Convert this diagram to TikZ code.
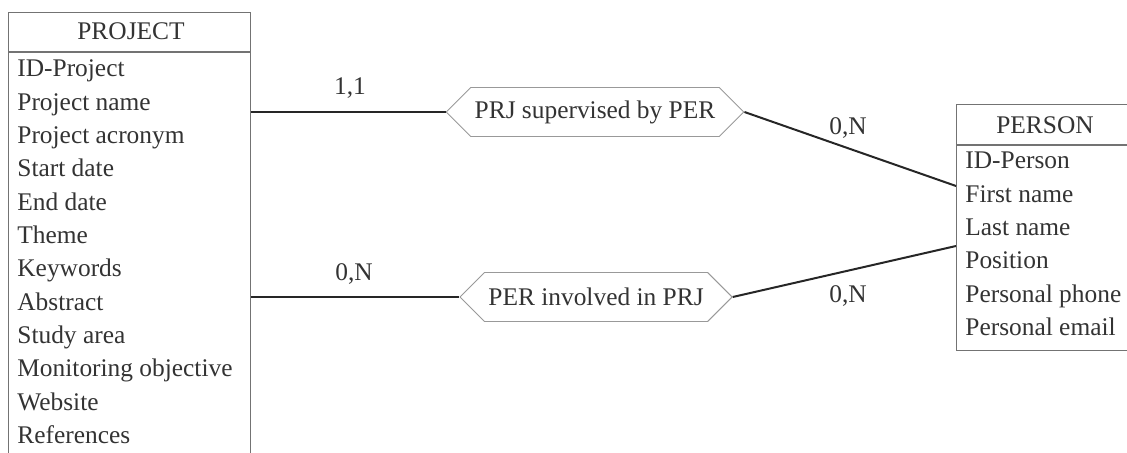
\documentclass[tikz,border=0pt]{standalone}
\usepackage{fontspec}
\setmainfont{Liberation Serif}
\usetikzlibrary{shapes.symbols}

\begin{document}
\begin{tikzpicture}[x=0.5pt,y=-0.5pt, font=\fontsize{12.7}{15}\selectfont, text=black!80]
    \tikzset{
        entbox/.style={draw=black!55, line width=0.55pt, inner sep=0pt, anchor=north west},
        attr/.style={anchor=base west, inner sep=0pt},
        card/.style={anchor=base, inner sep=0pt},
        relation/.style={shape=signal, signal to=east and west, signal pointer angle=90,
            draw=black!40, line width=0.45pt, minimum height=24.5pt, inner xsep=2pt, inner ysep=0pt},
        link/.style={draw=black!85, line width=1pt}
    }
    \useasboundingbox (0,0) rectangle (1127,453);
    \clip (0,0) rectangle (1127,453);

    % PROJECT entity
    \node[entbox, minimum width=121pt, minimum height=229pt] (prjbox) at (8,12) {};
    \draw[draw=black!55, line width=0.55pt] (8,52) -- (250,52);
    \node[card] (prj) at (131,40) {PROJECT};
    \foreach \a [count=\i] in {ID-Project,Project name,Project acronym,Start date,End date,Theme,
        Keywords,Abstract,Study area,Monitoring objective,Website,References} {
        \node[attr] (prj\i) at (17,{77+(\i-1)*33.3}) {\a};
    }

    % PERSON entity
    \node[entbox, minimum width=95pt, minimum height=123pt] (perbox) at (956,104) {};
    \draw[draw=black!55, line width=0.55pt] (956,145) -- (1146,145);
    \node[card] (per) at (1045,134) {PERSON};
    \foreach \a [count=\i] in {ID-Person,First name,Last name,Position,Personal phone,Personal email} {
        \node[attr] (per\i) at (965,{169+(\i-1)*33.3}) {\a};
    }

    % relationships
    \node[relation] (rel1) at (595,112) {PRJ supervised by PER};
    \node[relation] (rel2) at (596,297) {PER involved in PRJ};

    \coordinate (perin1) at (956,186);
    \coordinate (perin2) at (956,246);

    \draw[link] (prjbox.east |- rel1.west) -- (rel1.west);
    \draw[link] (rel1.east) -- (perin1);
    \draw[link] (prjbox.east |- rel2.west) -- (rel2.west);
    \draw[link] (rel2.east) -- (perin2);

    % cardinalities
    \node[card] (card1) at (350,95) {1,1};
    \node[card] (card2) at (848,135) {0,N};
    \node[card] (card3) at (354,281) {0,N};
    \node[card] (card4) at (848,303) {0,N};
\end{tikzpicture}
\end{document}
